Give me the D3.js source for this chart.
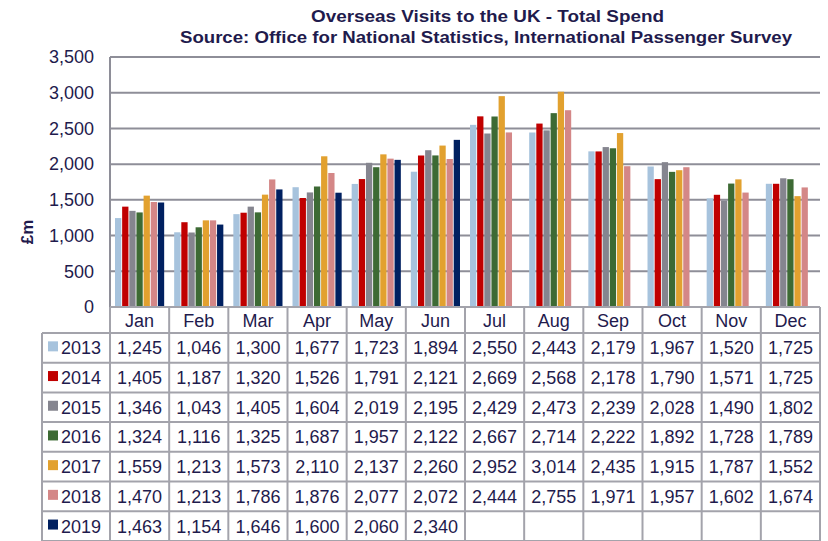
<!DOCTYPE html>
<html>
<head>
<meta charset="utf-8">
<script src="https://cdn.jsdelivr.net/npm/d3@7"></script>
<style>
  body { margin: 0; background: #fff; }
  svg { font-family: "Liberation Sans", Arial, sans-serif; }
</style>
</head>
<body>
<svg id="chart" width="828" height="541"></svg>
<script>
// data
const months = ["Jan","Feb","Mar","Apr","May","Jun","Jul","Aug","Sep","Oct","Nov","Dec"];
const years = ["2013","2014","2015","2016","2017","2018","2019"];
const colors = ["#a7c3dd","#c00000","#85858f","#3d6a34","#e2a12f","#d48787","#002060"];
const v2013 = [1245,1046,1300,1677,1723,1894,2550,2443,2179,1967,1520,1725];
const v2014 = [1405,1187,1320,1526,1791,2121,2669,2568,2178,1790,1571,1725];
const v2015 = [1346,1043,1405,1604,2019,2195,2429,2473,2239,2028,1490,1802];
const v2016 = [1324,1116,1325,1687,1957,2122,2667,2714,2222,1892,1728,1789];
const v2017 = [1559,1213,1573,2110,2137,2260,2952,3014,2435,1915,1787,1552];
const v2018 = [1470,1213,1786,1876,2077,2072,2444,2755,1971,1957,1602,1674];
const v2019 = [1463,1154,1646,1600,2060,2340];
const yTicks = [0,500,1000,1500,2000,2500,3000,3500];

const series = [v2013,v2014,v2015,v2016,v2017,v2018,v2019];

const svg = d3.select("#chart");
const margin = {top: 57, left: 110, right: 8};
const plotBottom = 307;
const width = 828 - margin.left - margin.right;
const rowH = 29.7;
const headerH = 26;
const textCol = "#1f1b4d";
const lineCol = "#a3a3ab";

const x = d3.scaleBand().domain(months).range([margin.left, margin.left + width]);
const xi = d3.scaleBand().domain(years).range([5, x.bandwidth() - 5]).paddingInner(0.12);
const y = d3.scaleLinear().domain([0, 3500]).range([plotBottom, margin.top]);

// title (the source is a bit stretched sideways, so fit the widths)
svg.append("text")
  .attr("x", 311).attr("y", 22)
  .attr("textLength", 353).attr("lengthAdjust", "spacingAndGlyphs")
  .style("font-size", "16px").style("font-weight", "bold")
  .attr("fill", textCol)
  .text("Overseas Visits to the UK - Total Spend");
svg.append("text")
  .attr("x", 180).attr("y", 43)
  .attr("textLength", 612).attr("lengthAdjust", "spacingAndGlyphs")
  .style("font-size", "16px").style("font-weight", "bold")
  .attr("fill", textCol)
  .text("Source: Office for National Statistics, International Passenger Survey");

// gridlines
svg.append("g")
  .selectAll("line")
  .data(yTicks)
  .join("line")
    .attr("x1", margin.left).attr("x2", margin.left + width)
    .attr("y1", d => y(d)).attr("y2", d => y(d))
    .attr("stroke", "#8e8e98").attr("stroke-width", 2);

// y axis
svg.append("line")
  .attr("x1", margin.left).attr("x2", margin.left)
  .attr("y1", y(3500)).attr("y2", plotBottom)
  .attr("stroke", "#8e8e98").attr("stroke-width", 2);

const yAxis = svg.append("g")
  .attr("transform", "translate(" + margin.left + ",0)")
  .call(d3.axisLeft(y).tickValues(yTicks).tickSize(0).tickPadding(16).tickFormat(d3.format(",")));
yAxis.select(".domain").remove();
yAxis.selectAll("text")
  .style("font-size", "18px")
  .style("font-family", "'Liberation Sans', Arial, sans-serif")
  .attr("fill", textCol);

svg.append("text")
  .attr("transform", "translate(33,232) rotate(-90)")
  .attr("text-anchor", "middle")
  .style("font-size", "17px").style("font-weight", "bold")
  .attr("fill", textCol)
  .text("£m");

// bars
const bars = [];
series.forEach((vals, i) => {
  vals.forEach((v, j) => bars.push({month: months[j], year: years[i], value: v, color: colors[i]}));
});
svg.append("g")
  .selectAll("rect")
  .data(bars)
  .join("rect")
    .attr("x", d => x(d.month) + xi(d.year))
    .attr("y", d => y(d.value))
    .attr("width", xi.bandwidth())
    .attr("height", d => plotBottom - y(d.value))
    .attr("fill", d => d.color);

// data table
const table = svg.append("g");
const tableTop = plotBottom + headerH;
const legendLeft = 42;
const tableBottom = tableTop + rowH * years.length;

// header month labels
table.selectAll(".mlabel")
  .data(months)
  .join("text")
    .attr("x", d => x(d) + x.bandwidth() / 2)
    .attr("y", plotBottom + 20)
    .attr("text-anchor", "middle")
    .style("font-size", "18px")
    .attr("fill", textCol)
    .text(d => d);

// cell values
const fmt = d3.format(",");
years.forEach((yr, i) => {
  const cy = tableTop + rowH * i + rowH / 2 + 6.5;
  table.append("rect")
    .attr("x", 48).attr("y", cy - 13)
    .attr("width", 10).attr("height", 10)
    .attr("fill", colors[i]);
  table.append("text")
    .attr("x", 61).attr("y", cy)
    .style("font-size", "18px")
    .attr("fill", textCol)
    .text(yr);
  table.selectAll(".v" + yr)
    .data(series[i])
    .join("text")
      .attr("x", (d, j) => x(months[j]) + x.bandwidth() / 2)
      .attr("y", cy)
      .attr("text-anchor", "middle")
      .style("font-size", "18px")
      .attr("fill", textCol)
      .text(d => fmt(d));
});

// table lines
const hLines = d3.range(years.length + 1).map(i => tableTop + rowH * i);
table.selectAll(".hl")
  .data(hLines)
  .join("line")
    .attr("x1", legendLeft).attr("x2", margin.left + width)
    .attr("y1", d => d).attr("y2", d => d)
    .attr("stroke", lineCol).attr("stroke-width", 2);
table.append("line")
  .attr("x1", margin.left).attr("x2", margin.left + width)
  .attr("y1", plotBottom).attr("y2", plotBottom)
  .attr("stroke", lineCol).attr("stroke-width", 2);
const vLines = months.map(m => x(m)).concat([margin.left + width]);
table.selectAll(".vl")
  .data(vLines)
  .join("line")
    .attr("x1", d => d).attr("x2", d => d)
    .attr("y1", plotBottom).attr("y2", tableBottom)
    .attr("stroke", lineCol).attr("stroke-width", 2);
table.append("line")
  .attr("x1", legendLeft).attr("x2", legendLeft)
  .attr("y1", tableTop).attr("y2", tableBottom)
  .attr("stroke", lineCol).attr("stroke-width", 2);
</script>
</body>
</html>
